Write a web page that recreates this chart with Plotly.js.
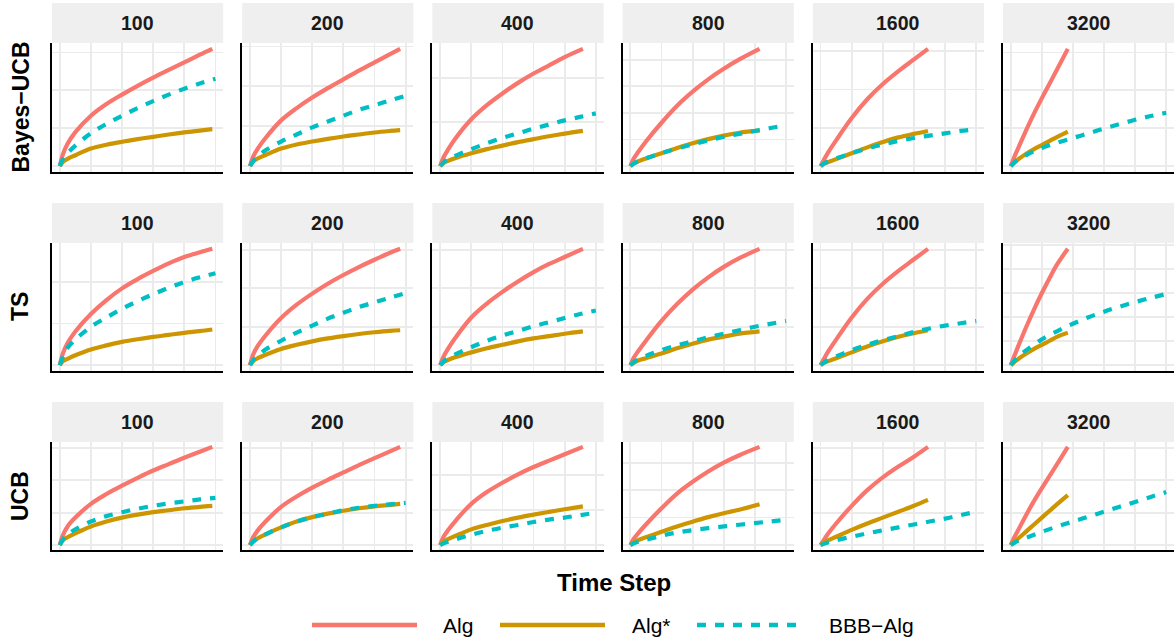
<!DOCTYPE html>
<html><head><meta charset="utf-8">
<script src="https://cdn.plot.ly/plotly-3.0.1.min.js"></script>
<style>html,body{margin:0;padding:0;background:#fff}#chart{width:1174px;height:644px}</style>
</head><body><div id="chart"></div>
<script>
// ---------- data ----------
const columns = ['100', '200', '400', '800', '1600', '3200'];
const rowLabels = ['Bayes\u2212UCB', 'TS', 'UCB'];
const methodNames = ['Alg', 'Alg*', 'BBB\u2212Alg'];

// time steps (BBB-Alg runs the full horizon; Alg / Alg* stop earlier in wide columns)
const bbbSteps = [0, 25, 50, 100, 200, 300, 400, 500, 600, 700, 800, 900, 1000];
const algSteps = [
  [0, 20, 50, 100, 200, 300, 400, 500, 600, 700, 800, 900, 980],
  [0, 20, 50, 100, 200, 300, 400, 500, 600, 700, 800, 900, 965],
  [0, 20, 50, 100, 200, 300, 400, 500, 600, 700, 800, 917],
  [0, 20, 50, 100, 200, 300, 400, 500, 600, 700, 830],
  [0, 20, 50, 100, 200, 300, 400, 500, 600, 690],
  [0, 20, 50, 100, 150, 200, 250, 300, 367]
];

// Bayes-UCB row
const bayesAlg = [
  [0, 10, 19, 29, 43, 53, 61, 68.5, 75.5, 82, 88.5, 95, 100],
  [0, 8, 15, 24, 39, 49.5, 58.5, 66.5, 74, 81.5, 88.5, 95.5, 100],
  [0, 7, 14, 24, 40, 52, 62, 71, 79, 86, 93, 100],
  [0, 6, 12, 21, 37, 51.5, 63.5, 74, 83, 91, 100],
  [0, 5, 12, 22, 41, 57, 70, 81, 91, 100],
  [0, 7, 16, 31, 45, 58, 70.5, 83, 100]
];
const bayesAlgStar = [
  [0, 3.5, 6.2, 9.3, 15, 18.3, 20.8, 23, 25, 27, 28.8, 30.3, 31.5],
  [0, 4, 6.5, 9.5, 15, 18.5, 21, 23.3, 25.3, 27, 28.7, 30, 30.7],
  [0, 2.5, 4.5, 7, 11, 14.5, 17.5, 20.5, 23, 25.5, 27.7, 30],
  [0, 2, 4, 6.5, 11, 15.5, 19.5, 23, 26, 28.5, 30.5],
  [0, 2, 3.5, 6, 11, 16, 20.5, 24.5, 27.5, 30],
  [0, 2.5, 6, 10.5, 14.5, 18, 21.5, 25, 29.5]
];
const bayesBBB = [
  [0, 7, 11, 17.5, 28, 36, 43, 49.5, 55.5, 61, 66, 70.5, 74.5],
  [0, 5, 8, 13.5, 21, 27, 33, 38, 43, 48, 52, 56, 60],
  [0, 3.5, 6, 9, 14.5, 19.5, 24, 28, 32, 35.5, 39, 42, 45],
  [0, 2.5, 4, 6.5, 11, 15, 18.5, 22, 25, 27.5, 30, 32.5, 35],
  [0, 2.5, 4, 6.5, 11, 15, 18.5, 21.5, 24, 26, 28, 30, 31.5],
  [0, 3.5, 6, 9.5, 15.5, 20, 24, 28, 32, 35.8, 39.5, 42.7, 45.5]
];

// TS row
const tsAlg = [
  [0, 10, 19, 29, 44, 56, 66, 74, 81, 87.5, 93, 97, 100],
  [0, 9, 16.5, 25.5, 40.5, 52, 61.5, 70, 77.5, 84.3, 90.6, 96.6, 100],
  [0, 7, 14, 24, 41, 53, 63, 72, 80, 87, 93, 100],
  [0, 6, 12, 21, 38, 52.5, 65, 75.5, 84.5, 92, 100],
  [0, 5, 12, 22, 41, 57, 70, 81, 91, 100],
  [0, 7, 17, 33, 48, 62, 75, 87, 100]
];
const tsAlgStar = [
  [0, 3.5, 5.5, 8.5, 13.5, 17, 20, 22.3, 24.3, 26, 27.8, 29.3, 30.7],
  [0, 3.5, 6, 9, 14, 17.5, 20.5, 23, 25, 26.8, 28.3, 29.5, 30],
  [0, 2.5, 4.5, 7, 11, 14.5, 17.5, 20.5, 23, 25, 27, 29],
  [0, 2, 4, 6, 10, 14.5, 18.5, 22, 24.5, 27, 29],
  [0, 2, 3.5, 6, 11, 16, 20.5, 24.5, 27.5, 30],
  [0, 2.5, 5.5, 10, 14, 17.5, 21, 24.5, 28]
];
const tsBBB = [
  [0, 9, 15, 22, 33, 41, 48.5, 55, 61, 66.5, 71.5, 75.5, 79],
  [0, 5, 8, 13.5, 21, 28, 34, 40, 45, 50, 54, 58, 62],
  [0, 3.5, 6, 9.5, 15.5, 21, 25.5, 29.5, 33.5, 37, 40.5, 44, 47],
  [0, 3, 5, 8, 13, 17, 20.5, 24, 27, 30, 33, 35.5, 38],
  [0, 2.5, 4.5, 7.5, 13, 17.5, 21.5, 25, 28.5, 31.5, 34, 36, 38],
  [0, 4, 7.5, 12.9, 22.2, 29.3, 35.6, 41.2, 46, 50.3, 54.2, 57.8, 61.2]
];

// UCB row
const ucbAlg = [
  [0, 10, 19, 28, 42, 52, 60.5, 68.5, 76, 82.5, 89, 95, 100],
  [0, 8, 15, 24, 39, 49.5, 58.5, 66.5, 74, 81.5, 88.5, 95.5, 100],
  [0, 8, 15, 25, 42, 54, 63.5, 72, 79.5, 86, 92.5, 100],
  [0, 6, 12, 21, 37.5, 52.5, 64.5, 75, 84, 91.5, 100],
  [0, 5, 12, 22, 40, 56, 69, 80, 90, 100],
  [0, 7, 16, 31, 45, 58, 70.5, 83, 100]
];
const ucbAlgStar = [
  [0, 5, 8, 12, 19, 24, 28, 31, 33.5, 35.5, 37.5, 39, 40],
  [0, 4, 7, 11, 18, 24, 28.5, 32, 35, 37.5, 39.5, 41, 42],
  [0, 3.5, 6, 9.5, 16, 20.5, 24.5, 28, 31, 33.8, 36.5, 39.5],
  [0, 2.5, 5, 8, 13.6, 19, 23.8, 28.5, 32.5, 36, 41.5],
  [0, 2.5, 5, 8.5, 15.5, 22, 28, 34, 40, 46],
  [0, 3, 7, 14, 21, 28, 35, 42, 51]
];
const ucbBBB = [
  [0, 7, 11, 16, 24, 29.5, 33.5, 37, 40, 42.5, 44.5, 46.5, 48],
  [0, 4, 7, 11, 18, 24, 28.5, 32, 35.5, 38, 40, 41.5, 43],
  [0, 2, 3.5, 6, 10.5, 14.5, 17.8, 20.5, 23.5, 26, 28, 30.5, 33],
  [0, 2, 3.5, 5.5, 9.5, 12.8, 15.2, 17.2, 19, 20.7, 22.4, 24.1, 25.8],
  [0, 1.5, 3, 5, 8.5, 12, 15, 18, 21, 24, 27, 30.5, 34],
  [0, 2.5, 4.5, 7.5, 13.5, 19, 24, 29, 34, 39, 44, 49, 54]
];

// ---------- styling / layout config ----------
const W = 1174, H = 644;
const colors = ['#F8766D', '#CD9600', '#00BFC4'];
const yGridStep = [
  [32.3, 34, 37.5, 22.7, 32.7, 32.3],
  [35.8, 33, 33, 33, 33, 20.7],
  [33, 33, 35.7, 28, 33, 33]
];
const rowPx = [[43, 172], [243, 371], [442, 550]];
const stripPx = [[3, 43], [203, 243], [402, 442]];
const panelLeft0 = 52, panelW = 171.2, panelStep = 190.2;

const rowData = [
  [bayesAlg, bayesAlgStar, bayesBBB],
  [tsAlg, tsAlgStar, tsBBB],
  [ucbAlg, ucbAlgStar, ucbBBB]
];

const traces = [];
const layout = {
  width: W, height: H,
  margin: {l: 0, r: 0, t: 0, b: 0},
  paper_bgcolor: '#fff', plot_bgcolor: '#fff',
  showlegend: false,
  font: {family: 'Liberation Sans, Arial, sans-serif', color: '#000'},
  shapes: [], annotations: []
};

function xDom(c) {
  const l = panelLeft0 + panelStep * c;
  return [l / W, Math.min(l + panelW, W) / W];
}
function yDom(r) {
  return [1 - rowPx[r][1] / H, 1 - rowPx[r][0] / H];
}

for (let r = 0; r < 3; r++) {
  for (let c = 0; c < 6; c++) {
    const k = r * 6 + c + 1;
    const xa = k === 1 ? 'x' : 'x' + k;
    const ya = k === 1 ? 'y' : 'y' + k;
    const common = {
      showticklabels: false, ticks: '', zeroline: false,
      showgrid: true, gridcolor: '#ebebeb', gridwidth: 1.8,
      showline: true, linecolor: '#000', linewidth: 2, fixedrange: true
    };
    layout['xaxis' + (k === 1 ? '' : k)] = Object.assign({}, common, {
      domain: xDom(c), anchor: ya, range: [-50, 1050], tick0: 0, dtick: 200
    });
    layout['yaxis' + (k === 1 ? '' : k)] = Object.assign({}, common, {
      domain: yDom(r), anchor: xa, range: [-5, 105], tick0: 0, dtick: yGridStep[r][c]
    });
    const [algY, starY, bbbY] = rowData[r];
    const series = [
      {x: algSteps[c], y: algY[c], m: 0},
      {x: algSteps[c], y: starY[c], m: 1},
      {x: bbbSteps, y: bbbY[c], m: 2}
    ];
    series.forEach(s => {
      traces.push({
        type: 'scatter', mode: 'lines', x: s.x, y: s.y, xaxis: xa, yaxis: ya,
        name: methodNames[s.m], hoverinfo: 'skip',
        line: {color: colors[s.m], width: 4.2, shape: 'spline', smoothing: 1,
               dash: s.m === 2 ? '9px,9px' : 'solid'}
      });
    });
    // strip
    const d = xDom(c);
    layout.shapes.push({
      type: 'rect', xref: 'paper', yref: 'paper', layer: 'below',
      x0: d[0], x1: d[1], y0: 1 - stripPx[r][1] / H, y1: 1 - stripPx[r][0] / H,
      fillcolor: '#efefef', line: {width: 0}
    });
    layout.annotations.push({
      xref: 'paper', yref: 'paper', x: (d[0] + d[1]) / 2,
      y: 1 - (stripPx[r][0] + stripPx[r][1]) / 2 / H,
      xanchor: 'center', yanchor: 'middle', showarrow: false,
      text: '<b>' + columns[c] + '</b>', font: {size: 19.5, color: '#1a1a1a'}
    });
  }
  // row label
  layout.annotations.push({
    xref: 'paper', yref: 'paper', x: 20 / W,
    y: 1 - (rowPx[r][0] + rowPx[r][1]) / 2 / H,
    xanchor: 'center', yanchor: 'middle', showarrow: false, textangle: -90,
    text: '<b>' + rowLabels[r] + '</b>', font: {size: 23, color: '#000'}
  });
}

// axis title
layout.annotations.push({
  xref: 'paper', yref: 'paper', x: 614 / W, y: 1 - 582 / H,
  xanchor: 'center', yanchor: 'middle', showarrow: false,
  text: '<b>Time Step</b>', font: {size: 24, color: '#000'}
});

// legend (drawn manually to match long key lines)
const legKeys = [[312, 417, 441], [500, 605, 630], [697, 802, 827]];
const legY = 1 - 625 / H;
legKeys.forEach((k, i) => {
  layout.shapes.push({
    type: 'line', xref: 'paper', yref: 'paper',
    x0: k[0] / W, x1: k[1] / W, y0: legY, y1: legY,
    line: {color: colors[i], width: 4.5, dash: i === 2 ? '9px,9px' : 'solid'}
  });
  layout.annotations.push({
    xref: 'paper', yref: 'paper', x: k[2] / W, y: legY,
    xanchor: 'left', yanchor: 'middle', showarrow: false,
    text: methodNames[i], font: {size: 21, color: '#000'}
  });
});

Plotly.newPlot('chart', traces, layout, {staticPlot: true, displayModeBar: false});
</script>
</body></html>
